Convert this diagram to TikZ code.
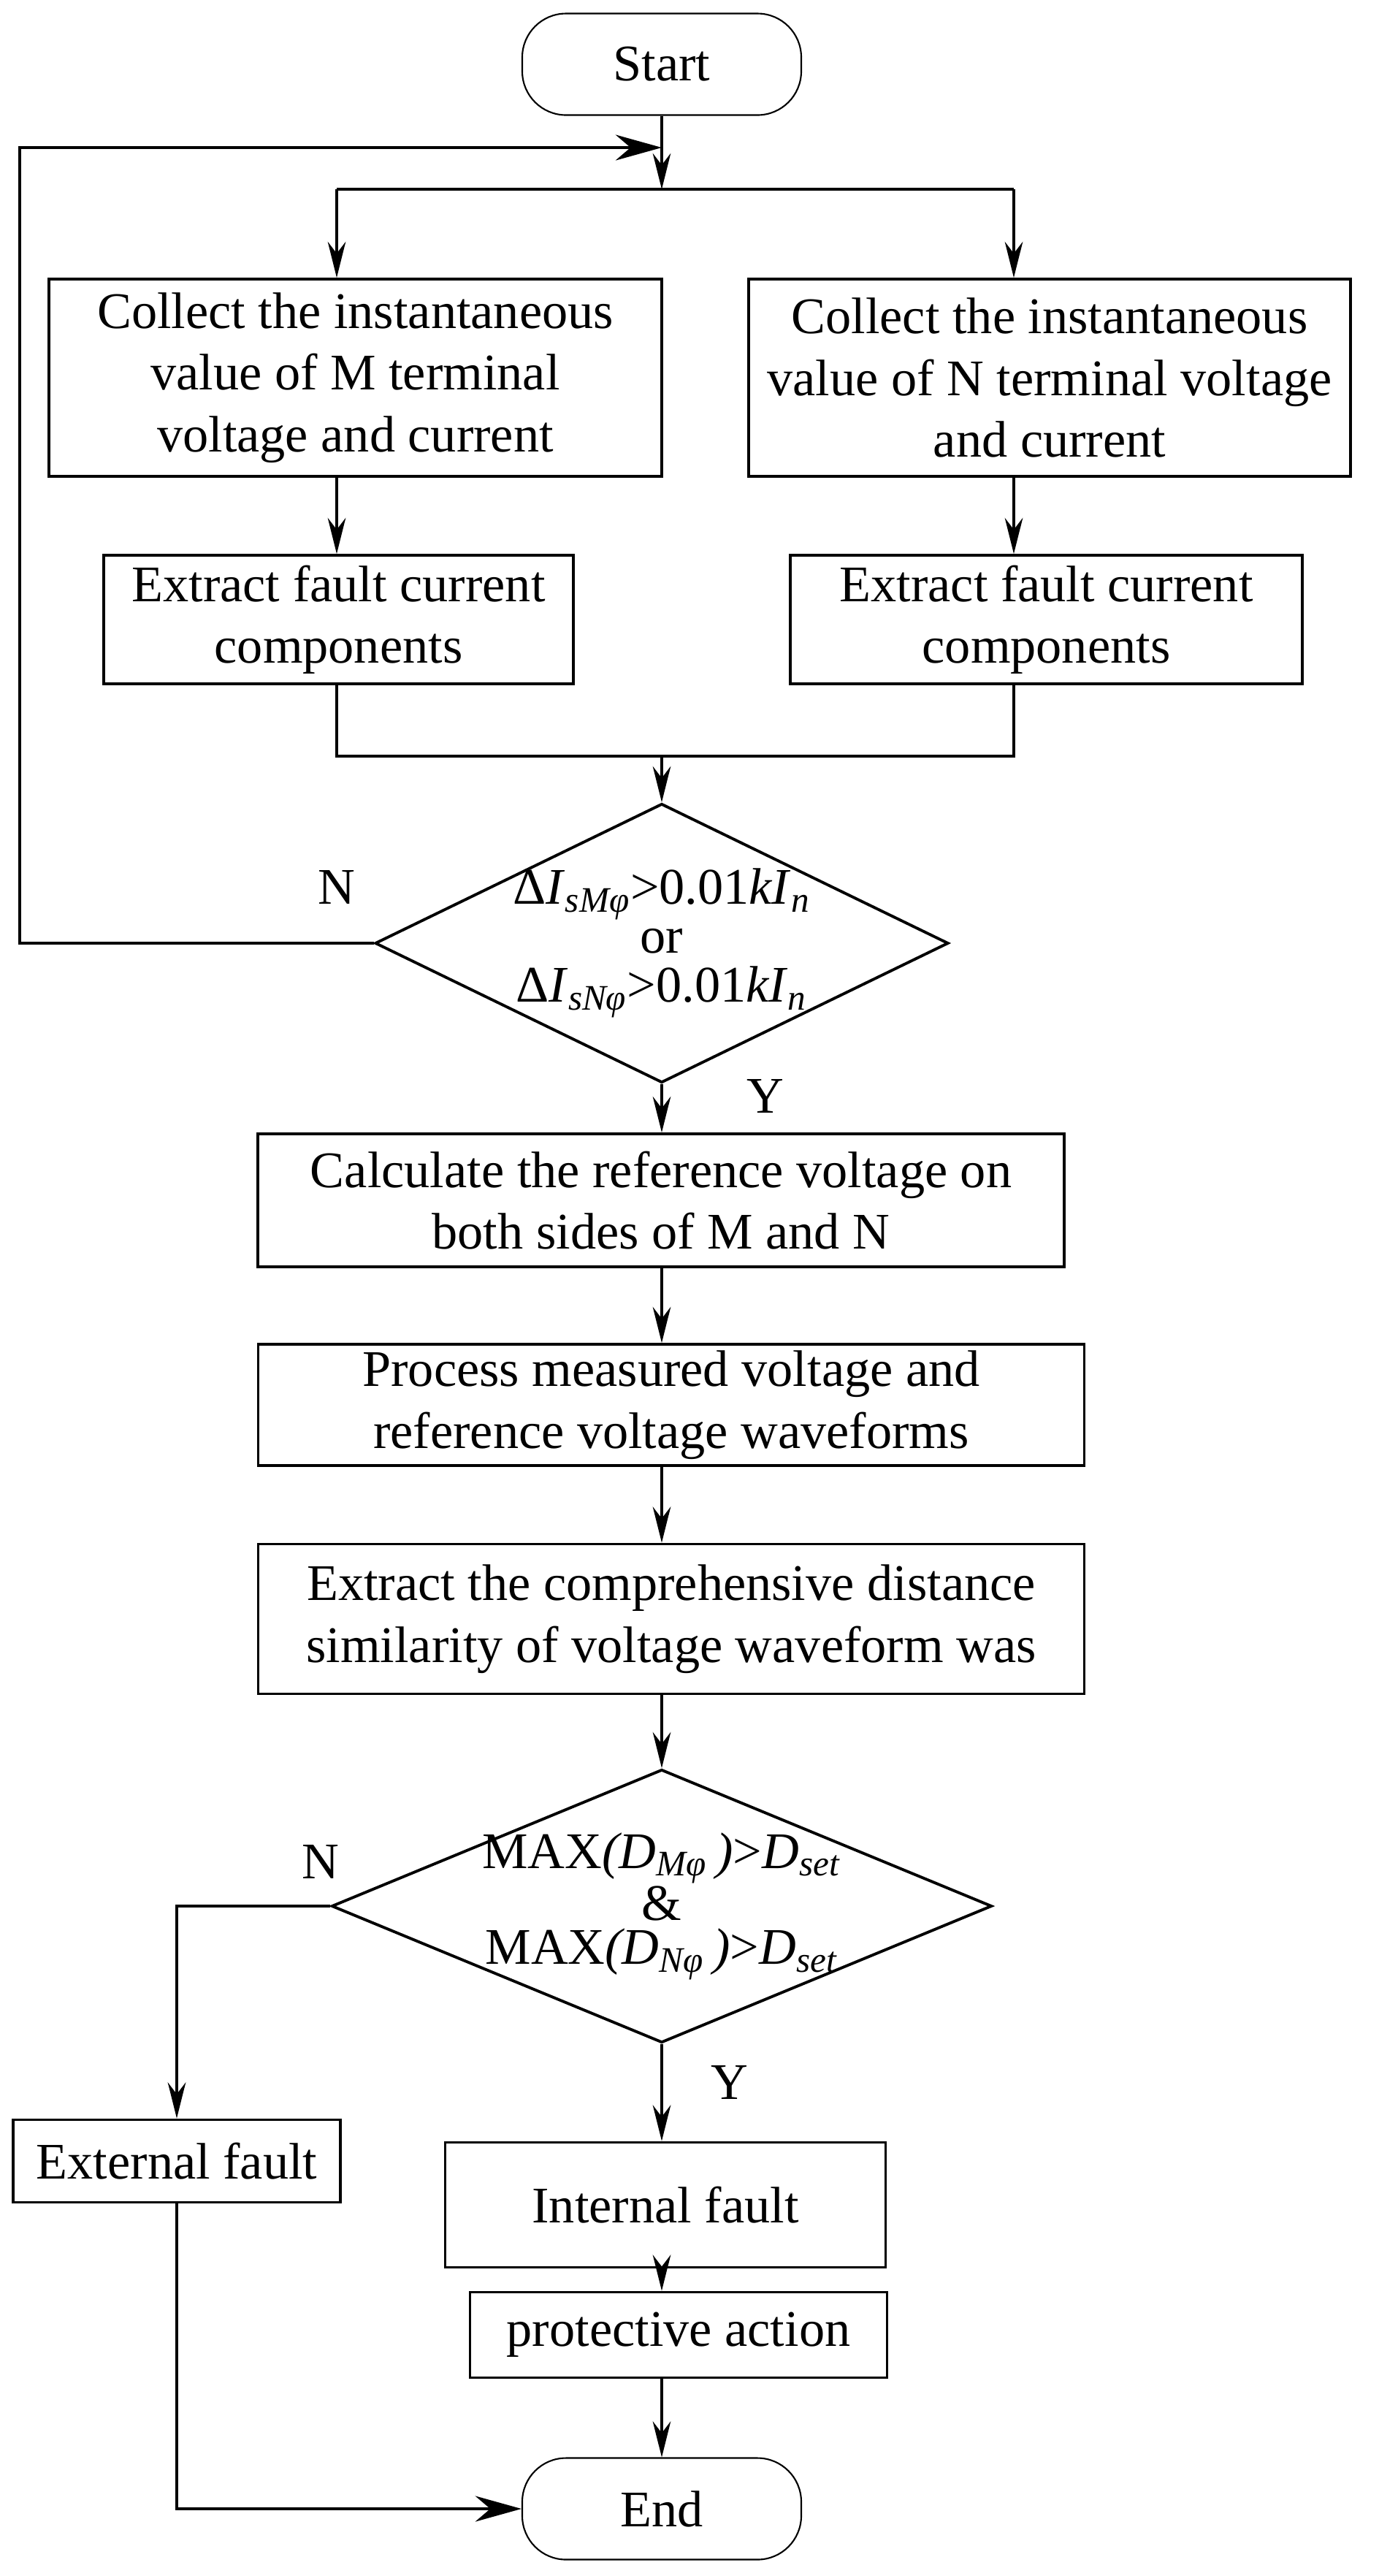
\documentclass[tikz,border=0pt]{standalone}
\usepackage{fontspec}
\setmainfont{Liberation Serif}
\usetikzlibrary{positioning, shapes.geometric, arrows.meta, calc}
\tikzset{
	processnode/.style={
			rectangle,
			draw=black,
			line width=1.1pt,
			fill=white,
			align=center,
			inner sep=0pt
		},
	decisionnode/.style={
			diamond,
			draw=black,
			line width=1.1pt,
			inner sep=0pt
		},
	terminalnode/.style={
			rectangle,
			rounded corners=0.6cm,
			draw=black,
			line width=0.6pt,
			minimum width=3.82cm,
			minimum height=1.39cm,
			inner sep=0pt
		},
	flowline/.style={
			line width=0.9pt,
			->
		},
	yesnolabel/.style={
			inner sep=0pt
		}
}

\begin{document}
\begin{tikzpicture}[font=\fontsize{20}{24}\selectfont, >={Stealth[length=14pt, width=7pt]}]
				\useasboundingbox (0,0) rectangle (18.87,-35.26);

				\node[terminalnode] (start) at (9.06, -0.88) {Start};
				\coordinate (loopin) at (9.06, -2.02);
				\coordinate (loopl) at (0.27, -2.02);
				\coordinate (split) at (9.06, -2.59);
				\coordinate (splitl) at (4.61, -2.59);
				\coordinate (splitr) at (13.88, -2.59);

				\node[processnode, minimum width=8.39cm, minimum height=2.70cm] (colm) at (4.865, -5.17) {Collect the instantaneous\\value of M terminal\\voltage and current};
				\node[processnode, minimum width=8.24cm, minimum height=2.70cm] (coln) at (14.37, -5.17) {Collect the instantaneous\\value of N terminal voltage\\and current};
				\node[processnode, minimum width=6.43cm, minimum height=1.76cm] (extm) at (4.635, -8.48) {Extract fault current\\components};
				\node[processnode, minimum width=7.01cm, minimum height=1.76cm] (extn) at (14.325, -8.48) {Extract fault current\\components};

				\coordinate (mergel) at (4.61, -10.35);
				\coordinate (merger) at (13.88, -10.35);
				\coordinate (merge) at (9.06, -10.35);

				\node[decisionnode, minimum width=7.85cm, minimum height=3.82cm,
					label={[align=center, font=\fontsize{20}{19}\selectfont]center:%
						Δ\textit{I}\textsubscript{\textit{sMφ}}>0.01\textit{kI}\textsubscript{\textit{n}}\\or\\%
						Δ\textit{I}\textsubscript{\textit{sNφ}}>0.01\textit{kI}\textsubscript{\textit{n}}}] (chk) at (9.06, -12.91) {};
				\node[yesnolabel] (chkno) at (4.61, -12.14) {N};
				\node[yesnolabel] (chkyes) at (10.48, -15.0) {Y};

				\node[processnode, minimum width=11.04cm, minimum height=1.82cm] (calcref) at (9.05, -16.43) {Calculate the reference voltage on\\both sides of M and N};
				\node[processnode, minimum width=11.31cm, minimum height=1.66cm] (proc) at (9.19, -19.23) {Process measured voltage and\\reference voltage waveforms};
				\node[processnode, minimum width=11.31cm, minimum height=2.05cm] (simil) at (9.19, -22.16) {Extract the comprehensive distance\\similarity of voltage waveform was};

				\node[decisionnode, minimum width=9.04cm, minimum height=3.74cm,
					label={[align=center, font=\fontsize{20}{17}\selectfont]center:%
						MAX\textit{(D\textsubscript{Mφ}\,)}>\textit{D}\textsubscript{\textit{set}}\\\&\\%
						MAX\textit{(D\textsubscript{Nφ}\,)}>\textit{D}\textsubscript{\textit{set}}}] (judge) at (9.06, -26.09) {};
				\node[yesnolabel] (judgeno) at (4.39, -25.48) {N};
				\node[yesnolabel] (judgeyes) at (9.99, -28.5) {Y};

				\node[processnode, minimum width=4.48cm, minimum height=1.13cm] (ext) at (2.42, -29.58) {External fault};
				\node[processnode, minimum width=6.03cm, minimum height=1.71cm] (int) at (9.11, -30.18) {Internal fault};
				\node[processnode, minimum width=5.71cm, minimum height=1.17cm] (act) at (9.29, -31.96) {protective action};
				\node[terminalnode] (stop) at (9.06, -34.34) {End};

				% start and split to both terminals
				\draw[flowline] (start) -- (split);
				\draw[line width=0.9pt] (splitl) -- (splitr);
				\draw[flowline] (splitl) -- (splitl |- colm.north);
				\draw[flowline] (splitr) -- (splitr |- coln.north);
				\draw[flowline] (colm.south -| splitl) -- (extm.north -| splitl);
				\draw[flowline] (coln.south -| splitr) -- (extn.north -| splitr);
				\draw[line width=0.9pt] (extm.south -| mergel) -- (mergel) -- (merger) -- (extn.south -| merger);
				\draw[flowline] (merge) -- (chk.north);

				% no fault: back to sampling
				\draw[flowline, >={Stealth[length=18pt, width=10pt]}] (chk.west) -| (loopl) -- (loopin);

				\draw[flowline] (chk.south) -- (calcref.north -| start);
				\draw[flowline] (calcref.south -| start) -- (proc.north -| start);
				\draw[flowline] (proc.south -| start) -- (simil.north -| start);
				\draw[flowline] (simil.south -| start) -- (judge.north);

				\draw[flowline] (judge.west) -| (ext.north);
				\draw[flowline] (judge.south) -- (judge.south |- int.north);
				\draw[flowline] (int.south -| start) -- (act.north -| start);
				\draw[flowline] (act.south -| start) -- (stop.north);
				\draw[flowline, >={Stealth[length=18pt, width=10pt]}] (ext.south) |- (stop.west);
			\end{tikzpicture}
\end{document}
